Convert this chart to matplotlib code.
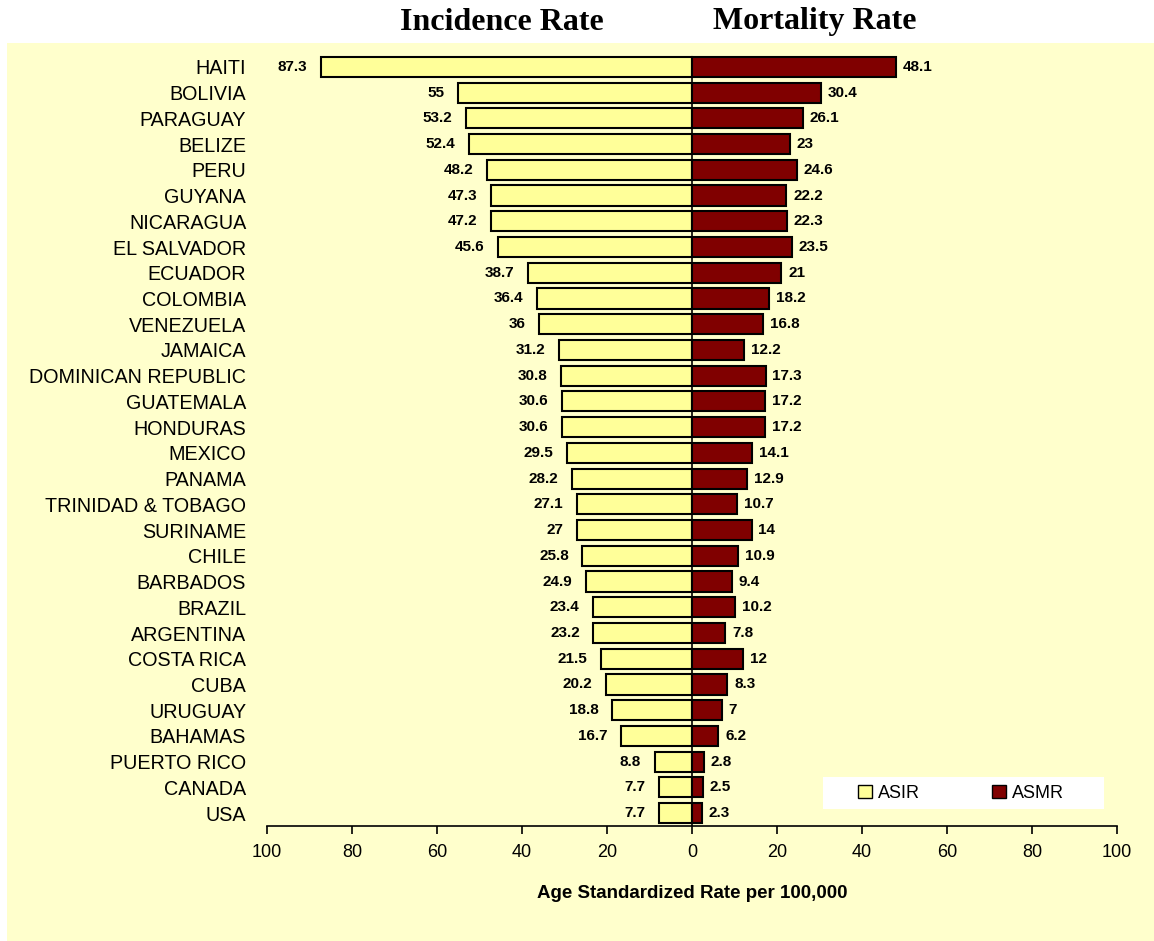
import matplotlib
matplotlib.use("Agg")
import matplotlib.pyplot as plt
from matplotlib.patches import Patch, Rectangle

countries = ["HAITI", "BOLIVIA", "PARAGUAY", "BELIZE", "PERU", "GUYANA", "NICARAGUA",
             "EL SALVADOR", "ECUADOR", "COLOMBIA", "VENEZUELA", "JAMAICA",
             "DOMINICAN REPUBLIC", "GUATEMALA", "HONDURAS", "MEXICO", "PANAMA",
             "TRINIDAD & TOBAGO", "SURINAME", "CHILE", "BARBADOS", "BRAZIL",
             "ARGENTINA", "COSTA RICA", "CUBA", "URUGUAY", "BAHAMAS", "PUERTO RICO",
             "CANADA", "USA"]
asir = [87.3, 55, 53.2, 52.4, 48.2, 47.3, 47.2, 45.6, 38.7, 36.4, 36, 31.2, 30.8,
        30.6, 30.6, 29.5, 28.2, 27.1, 27, 25.8, 24.9, 23.4, 23.2, 21.5, 20.2, 18.8,
        16.7, 8.8, 7.7, 7.7]
asmr = [48.1, 30.4, 26.1, 23, 24.6, 22.2, 22.3, 23.5, 21, 18.2, 16.8, 12.2, 17.3,
        17.2, 17.2, 14.1, 12.9, 10.7, 14, 10.9, 9.4, 10.2, 7.8, 12, 8.3, 7, 6.2,
        2.8, 2.5, 2.3]
ticks = [-100, -80, -60, -40, -20, 0, 20, 40, 60, 80, 100]

plt.rcParams['font.family'] = ['Liberation Sans', 'DejaVu Sans']

W, H = 1154, 941
fig = plt.figure(figsize=(W / 100, H / 100), dpi=100)
fig.patch.set_facecolor("#FFFFCC")
fig.add_artist(Rectangle((0, 1 - 43 / H), 1, 43 / H, transform=fig.transFigure,
                         facecolor="white", edgecolor="none", zorder=0))
fig.add_artist(Rectangle((0, 0), 7 / W, 1, transform=fig.transFigure,
                         facecolor="white", edgecolor="none", zorder=0))

ax = fig.add_axes([267 / W, 1 - 826 / H, 850 / W, (826 - 54) / H])
ax.set_facecolor("none")
y = list(range(len(countries)))
ax.barh(y, [-v for v in asir], height=0.78, color="#FFFF99", edgecolor="black",
        linewidth=1.5, zorder=2)
ax.barh(y, asmr, height=0.78, color="#800000", edgecolor="black",
        linewidth=1.5, zorder=2)
ax.axvline(0, color="black", lw=1.2, zorder=3, ymin=-0.01, ymax=1 - 3 / (826 - 54))

for i, (a, m) in enumerate(zip(asir, asmr)):
    ax.text(-a - 3.2, i, f"{a:g}", ha="right", va="center", fontsize=11,
            fontweight="bold")
    ax.text(m + 1.6, i, f"{m:g}", ha="left", va="center", fontsize=11,
            fontweight="bold")

ax.set_xlim(-100, 100)
ax.set_ylim(len(countries) - 0.5, -0.5)
ax.set_xticks(ticks)
ax.set_xticklabels([str(abs(t)) for t in ticks], fontsize=13)
ax.set_yticks(y)
ax.set_yticklabels(countries, fontsize=14.2)
ax.tick_params(axis="y", length=0, pad=15)
ax.tick_params(axis="x", direction="out", length=6, width=1.2, pad=7)
for s in ["top", "right", "left"]:
    ax.spines[s].set_visible(False)
ax.spines["bottom"].set_linewidth(1.2)
ax.set_xlabel("Age Standardized Rate per 100,000", fontsize=13.5,
              fontweight="bold", labelpad=17)

fig.text(502 / W, 1 - 22 / H, "Incidence Rate", ha="center", va="center",
         fontsize=23, fontweight="bold", family="Liberation Serif")
fig.text(815 / W, 1 - 22 / H, "Mortality Rate", ha="center", va="center",
         fontsize=23, fontweight="bold", family="Liberation Serif")

fig.add_artist(Rectangle((823 / W, 1 - 809 / H), 281 / W, 32 / H,
                         transform=fig.transFigure, facecolor="white",
                         edgecolor="none", zorder=1))
handles = [Patch(facecolor="#FFFF99", edgecolor="black", label="ASIR"),
           Patch(facecolor="#800000", edgecolor="black", label="ASMR")]
leg = fig.legend(handles=handles, loc="center", ncol=2,
                 bbox_to_anchor=(961 / W, 1 - 793 / H), frameon=False,
                 fontsize=13, handlelength=0.75, handleheight=0.75,
                 handletextpad=0.35, columnspacing=4.0, borderpad=0.2)
leg.set_zorder(5)

fig.savefig("out.png", dpi=100, facecolor=fig.get_facecolor())
